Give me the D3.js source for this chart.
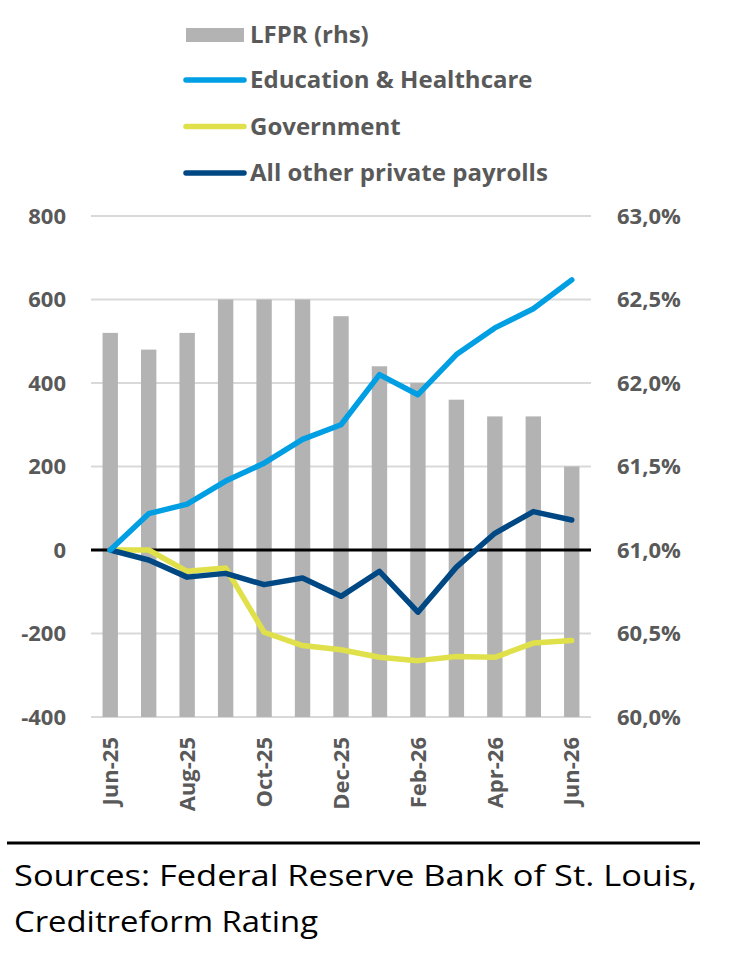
<html>
<head>
<meta charset="utf-8">
<script src="https://d3js.org/d3.v7.min.js"></script>
<style>
body { margin: 0; background: #fff; }
text { font-family: "Open Sans", sans-serif; }
</style>
</head>
<body>
<svg width="730" height="967"></svg>
<script>
// data
var months = ["Jun-25","Jul-25","Aug-25","Sep-25","Oct-25","Nov-25","Dec-25",
              "Jan-26","Feb-26","Mar-26","Apr-26","May-26","Jun-26"];
var lfpr = [62.3, 62.2, 62.3, 62.5, 62.5, 62.5, 62.4, 62.1, 62.0, 61.9, 61.8, 61.8, 61.5];
var eduHealth = [0, 87, 110, 165, 208, 265, 300, 420, 372, 468, 532, 578, 647];
var government = [0, 0, -51, -43, -197, -229, -239, -257, -265, -255, -257, -223, -217];
var otherPrivate = [0, -24, -65, -56, -83, -67, -111, -51, -149, -41, 40, 92, 72];
var leftTicks = [-400, -200, 0, 200, 400, 600, 800];
var rightTicks = [60.0, 60.5, 61.0, 61.5, 62.0, 62.5, 63.0];

var svg = d3.select("svg");
var plotL = 91, plotR = 591, plotT = 216, plotB = 717;
var grey = "#595959";

var x = d3.scaleBand().domain(months).range([plotL, plotR]).paddingInner(0.6).paddingOuter(0.3);
var y = d3.scaleLinear().domain([-400, 800]).range([plotB, plotT]);
var y2 = d3.scaleLinear().domain([60, 63]).range([plotB, plotT]);

// gridlines
svg.append("g")
  .selectAll("line")
  .data(leftTicks.filter(function(d){ return d != 0; }))
  .enter().append("line")
  .attr("x1", plotL).attr("x2", plotR)
  .attr("y1", function(d){ return y(d); }).attr("y2", function(d){ return y(d); })
  .attr("stroke", "#d9d9d9").attr("stroke-width", 2);

// bars
svg.append("g")
  .selectAll("rect")
  .data(lfpr)
  .enter().append("rect")
  .attr("x", function(d, i){ return x(months[i]); })
  .attr("width", x.bandwidth())
  .attr("y", function(d){ return y2(d); })
  .attr("height", function(d){ return plotB - y2(d); })
  .attr("fill", "#b3b3b3");

// zero line
svg.append("line")
  .attr("x1", plotL).attr("x2", plotR)
  .attr("y1", y(0)).attr("y2", y(0))
  .attr("stroke", "#000").attr("stroke-width", 3);

var line = d3.line()
  .x(function(d, i){ return x(months[i]) + x.bandwidth() / 2; })
  .y(function(d){ return y(d); });

var series = [
  {name: "Government", values: government, color: "#dfe04a"},
  {name: "All other private payrolls", values: otherPrivate, color: "#004884"},
  {name: "Education & Healthcare", values: eduHealth, color: "#009fe3"}
];

series.forEach(function(s){
  svg.append("path")
    .datum(s.values)
    .attr("d", line)
    .attr("fill", "none")
    .attr("stroke", s.color)
    .attr("stroke-width", 5.5)
    .attr("stroke-linecap", "round")
    .attr("stroke-linejoin", "round");
});

// axes
var ax = svg.append("g")
  .attr("transform", "translate(" + (plotL - 25) + ",0)")
  .call(d3.axisLeft(y).tickValues(leftTicks).tickSize(0).tickPadding(0)
        .tickFormat(function(d){ return String(d); }));
ax.select(".domain").remove();
ax.selectAll("text").attr("fill", grey).attr("font-size", 22).attr("font-weight", "bold");

var ax2 = svg.append("g")
  .attr("transform", "translate(" + (plotR + 26) + ",0)")
  .call(d3.axisRight(y2).tickValues(rightTicks).tickSize(0).tickPadding(0)
        .tickFormat(function(d){ return d.toFixed(1).replace(".", ",") + "%"; }));
ax2.select(".domain").remove();
ax2.selectAll("text").attr("fill", grey).attr("font-size", 22).attr("font-weight", "bold");

var axb = svg.append("g")
  .attr("transform", "translate(0," + (plotB + 20) + ")")
  .call(d3.axisBottom(x).tickValues(months.filter(function(d, i){ return i % 2 == 0; }))
        .tickSize(0).tickPadding(0));
axb.select(".domain").remove();
axb.selectAll("text")
  .attr("fill", grey).attr("font-size", 22).attr("font-weight", "bold")
  .attr("transform", "rotate(-90)")
  .attr("text-anchor", "end")
  .attr("x", 0).attr("y", 0).attr("dy", "0.35em");

// legend
var legend = svg.append("g");
legend.append("rect").attr("x", 186).attr("y", 28).attr("width", 58).attr("height", 14).attr("fill", "#b3b3b3");
legend.append("text").attr("x", 250).attr("y", 43).text("LFPR (rhs)");
var legendLines = [series[2], series[0], series[1]];
legendLines.forEach(function(s, i){
  var ly = 80 + i * 46.5;
  legend.append("line").attr("x1", 186).attr("x2", 244).attr("y1", ly).attr("y2", ly)
    .attr("stroke", s.color).attr("stroke-width", 5.5).attr("stroke-linecap", "round");
  legend.append("text").attr("x", 250).attr("y", ly + 8).text(s.name);
});
legend.selectAll("text").attr("fill", grey).attr("font-size", 24).attr("font-weight", "bold");

// footer
svg.append("line").attr("x1", 7).attr("x2", 700).attr("y1", 843).attr("y2", 843)
  .attr("stroke", "#000").attr("stroke-width", 3);
svg.append("text").attr("x", 14).attr("y", 886).attr("font-size", 29)
  .attr("textLength", 683).attr("lengthAdjust", "spacingAndGlyphs")
  .text("Sources: Federal Reserve Bank of St. Louis,");
svg.append("text").attr("x", 14).attr("y", 932).attr("font-size", 29)
  .attr("textLength", 304).attr("lengthAdjust", "spacingAndGlyphs")
  .text("Creditreform Rating");
</script>
</body>
</html>
